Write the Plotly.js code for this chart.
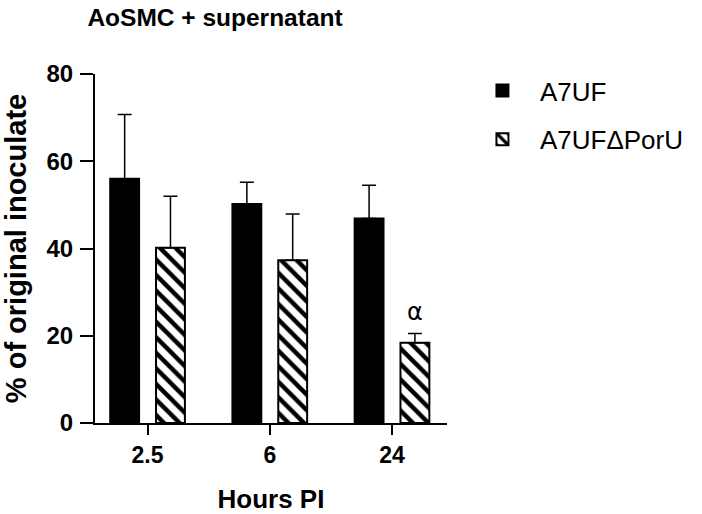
<!DOCTYPE html>
<html>
<head>
<meta charset="utf-8">
<script src="https://cdn.plot.ly/plotly-3.0.1.min.js"></script>
<style>html,body{margin:0;padding:0;background:#fff;}#chart{width:702px;height:514px;}</style>
</head>
<body>
<div id="chart"></div>
<script>
const categories = ['2.5', '6', '24'];
const wtMeans = [56.0, 50.2, 46.9];
const wtErrUp = [14.7, 5.0, 7.6];
const mutMeans = [40.2, 37.3, 18.4];
const mutErrUp = [11.8, 10.6, 2.1];
const seriesNames = ['A7UF', 'A7UFΔPorU'];
const sigLabel = 'α';
const sigIndex = 2;

const FONT = 'Liberation Sans, Arial, sans-serif';

const traces = [
  {
    type: 'bar', name: seriesNames[0], x: categories, y: wtMeans,
    legendgroup: 'a',
    marker: {color: '#000', line: {color: '#000', width: 2}},
    error_y: {type: 'data', symmetric: false, array: wtErrUp, arrayminus: [0,0,0], color: '#000', thickness: 1.5, width: 7}
  },
  {
    type: 'bar', name: seriesNames[1], x: categories, y: mutMeans,
    legendgroup: 'b',
    marker: {color: '#fff', line: {color: '#000', width: 2},
      pattern: {shape: '\\', fgcolor: '#000', bgcolor: '#fff', size: 11, solidity: 0.4}},
    error_y: {type: 'data', symmetric: false, array: mutErrUp, arrayminus: [0,0,0], color: '#000', thickness: 1.5, width: 7}
  }
];

const layout = {
  width: 702, height: 514,
  margin: {l: 95, r: 255, t: 74, b: 91},
  paper_bgcolor: '#fff', plot_bgcolor: '#fff',
  font: {family: FONT, color: '#000'},
  barmode: 'group', bargap: 0.25, bargroupgap: 0.37,
  showlegend: true,
  title: {text: 'AoSMC + supernatant', font: {family: FONT, size: 24.5, weight: 'bold', color: '#000'},
    x: 0.341, xref: 'paper', xanchor: 'center', y: 0.966, yref: 'container', yanchor: 'middle'},
  xaxis: {
    type: 'category', range: [-0.43, 2.45],
    showline: true, linecolor: '#000', linewidth: 2,
    ticks: 'outside', ticklen: 10, tickwidth: 2, tickcolor: '#000',
    showgrid: false, zeroline: false,
    tickfont: {family: FONT, size: 23, weight: 'bold', color: '#000'},
    title: {text: 'Hours PI', font: {family: FONT, size: 26, weight: 'bold', color: '#000'}, standoff: 24}
  },
  yaxis: {
    range: [0, 80], tickvals: [0, 20, 40, 60, 80],
    showline: true, linecolor: '#000', linewidth: 2,
    ticks: 'outside', ticklen: 13, tickwidth: 2, tickcolor: '#000',
    showgrid: false, zeroline: false,
    tickfont: {family: FONT, size: 24, weight: 'bold', color: '#000'},
    ticklabelstandoff: 2,
    title: {text: '% of original inoculate', font: {family: FONT, size: 29, weight: 'bold', color: '#000'}, standoff: 13}
  },
  legend: {
    x: 1.051, xanchor: 'left', y: 1.02, yanchor: 'top',
    font: {family: FONT, size: 26, color: '#000'},
    itemwidth: 65, traceorder: 'grouped', tracegroupgap: 12,
    bgcolor: 'rgba(0,0,0,0)'
  },
  annotations: [
    {x: sigIndex, y: mutMeans[sigIndex] + mutErrUp[sigIndex], yanchor: 'bottom', yshift: 6, xshift: 23,
     text: sigLabel, showarrow: false, font: {family: 'DejaVu Sans, sans-serif', size: 24, color: '#000'}}
  ]
};

Plotly.newPlot('chart', traces, layout, {displayModeBar: false, staticPlot: true});
</script>
</body>
</html>
